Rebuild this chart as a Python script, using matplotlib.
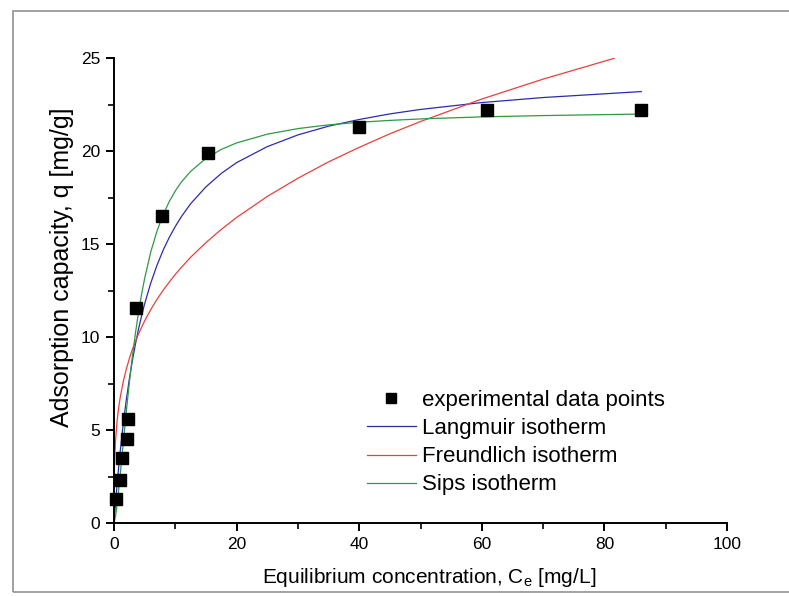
import matplotlib
matplotlib.use("Agg")
import matplotlib.pyplot as plt
from matplotlib.patches import Rectangle
from matplotlib.ticker import MultipleLocator

plt.rcParams['font.family'] = ['Liberation Sans', 'DejaVu Sans']

# experimental points
exp_c = [0.3, 1.0, 1.3, 2.2, 2.3, 3.6, 7.9, 15.4, 39.9, 60.9, 86.0]
exp_q = [1.3, 2.3, 3.5, 4.5, 5.6, 11.55, 16.5, 19.9, 21.3, 22.2, 22.2]

# fitted curves, values
lang_c = [0, 0.25, 0.5, 0.75, 1, 1.5, 2, 2.5, 3, 3.5, 4, 4.5, 5, 6, 7, 8, 9, 10, 11, 12.5,
          15, 17.5, 20, 25, 30, 35, 40, 45, 50, 60, 70, 86]
lang_q = [0, 1.08, 2.07, 2.98, 3.82, 5.31, 6.61, 7.74, 8.74, 9.63, 10.43, 11.14, 11.79,
          12.91, 13.85, 14.66, 15.35, 15.95, 16.48, 17.17, 18.08, 18.80, 19.38, 20.24,
          20.87, 21.34, 21.70, 22.00, 22.24, 22.61, 22.88, 23.20]

freu_c = [0.01, 0.02, 0.05, 0.1, 0.25, 0.5, 0.75, 1, 1.5, 2, 2.5, 3, 4, 5, 6, 7, 8, 9, 10,
          11, 12.5, 15, 17.5, 20, 25, 30, 35, 40, 45, 50, 60, 70, 81.6]
freu_q = [1.71, 2.10, 2.76, 3.39, 4.45, 5.47, 6.18, 6.73, 7.59, 8.27, 8.84, 9.34, 10.17,
          10.87, 11.48, 12.02, 12.51, 12.95, 13.37, 13.75, 14.29, 15.08, 15.79, 16.43,
          17.56, 18.54, 19.42, 20.20, 20.93, 21.59, 22.80, 23.87, 24.99]

sips_c = [0, 0.25, 0.5, 0.75, 1, 1.5, 2, 2.5, 3, 3.5, 4, 4.5, 5, 6, 7, 8, 9, 10, 11, 12.5,
          15, 17.5, 20, 25, 30, 35, 40, 45, 50, 60, 70, 85.5]
sips_q = [0, 0.36, 0.98, 1.73, 2.56, 4.28, 5.98, 7.54, 8.96, 10.22, 11.33, 12.30, 13.16,
          14.58, 15.69, 16.57, 17.28, 17.86, 18.34, 18.91, 19.61, 20.09, 20.44, 20.91,
          21.21, 21.41, 21.55, 21.65, 21.73, 21.84, 21.91, 21.99]

fig = plt.figure(figsize=(7.89, 5.96), dpi=100)
ax = fig.add_axes([0.1445, 0.1225, 0.777, 0.780])

# grey outer frame
fig.patches.append(Rectangle((0.0165, 0.0067), 1.1, 0.9748, transform=fig.transFigure,
                             fill=False, edgecolor='#9a9a9a', linewidth=1.3))

ax.plot(exp_c, exp_q, 's', color='black', markersize=8, linestyle='none',
        label='experimental data points', clip_on=False, zorder=5)
ax.plot(lang_c, lang_q, color='#2b2bb0', linewidth=0.9, label='Langmuir isotherm')
ax.plot(freu_c, freu_q, color='#e8403c', linewidth=0.9, label='Freundlich isotherm')
ax.plot(sips_c, sips_q, color='#2e9a44', linewidth=0.9, label='Sips isotherm')

ax.set_xlim(0, 100)
ax.set_ylim(0, 25)
ax.xaxis.set_major_locator(MultipleLocator(20))
ax.xaxis.set_minor_locator(MultipleLocator(10))
ax.yaxis.set_major_locator(MultipleLocator(5))
ax.yaxis.set_minor_locator(MultipleLocator(2.5))

for side in ['top', 'right']:
    ax.spines[side].set_visible(False)
for side in ['left', 'bottom']:
    ax.spines[side].set_linewidth(1.4)

ax.tick_params(which='major', direction='out', length=6, width=1.4, labelsize=12.5, pad=4)
ax.tick_params(which='minor', direction='out', length=4, width=1.2)

ax.set_xlabel('Equilibrium concentration, C$_\\mathregular{e}$ [mg/L]', fontsize=15)
ax.xaxis.set_label_coords(0.514, -0.092)
ax.set_ylabel('Adsorption capacity, q [mg/g]', fontsize=18)
ax.yaxis.set_label_coords(-0.066, 0.55)

ax.legend(loc='upper left', bbox_to_anchor=(0.398, 0.305), frameon=False, fontsize=16,
          handlelength=2.2, handletextpad=0.3, labelspacing=0.32, borderaxespad=0,
          markerscale=0.9)

fig.savefig('out.png', dpi=100)
